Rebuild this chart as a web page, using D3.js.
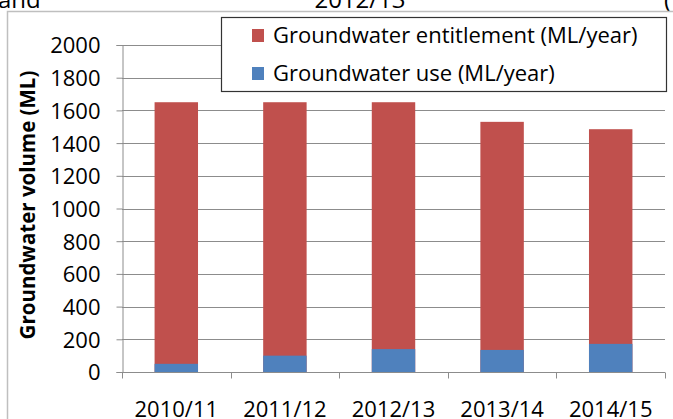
<!DOCTYPE html>
<html>
<head>
<meta charset="utf-8">
<script src="https://cdn.jsdelivr.net/npm/d3@7"></script>
<style>
  body { margin: 0; background: #fff; }
  svg text { font-family: "Open Sans", sans-serif; fill: #000; }
</style>
</head>
<body>
<svg id="chart" width="673" height="419"></svg>
<script>
// data
var years = ["2010/11", "2011/12", "2012/13", "2013/14", "2014/15"];
var entitlement = [1650, 1650, 1650, 1530, 1485];
var use = [50, 100, 140, 135, 172];
var yTicks = [0, 200, 400, 600, 800, 1000, 1200, 1400, 1600, 1800, 2000];
var legendLabels = ["Groundwater entitlement (ML/year)", "Groundwater use (ML/year)"];
var colors = ["#C0504D", "#4F81BD"];

function drawChart() {
  var svg = d3.select("#chart");
  var mLeft = 122, mRight = 665, mTop = 45, mBottom = 372;
  var axisColor = "#8c8c8c";

  // text of the page above, cut off by the crop
  svg.append("text").attr("x", -2).attr("y", 8).style("font-size", "24px").text("and");
  svg.append("text").attr("x", 360).attr("y", 8).attr("text-anchor", "middle").style("font-size", "24px").text("2012/13");
  svg.append("text").attr("x", 664).attr("y", 8).style("font-size", "24px").text("(");

  // chart frame
  svg.append("rect")
    .attr("x", 7.5).attr("y", 11.5).attr("width", 680).attr("height", 430)
    .attr("fill", "#fff").attr("stroke", "#bfbfbf").attr("stroke-width", 1.5);

  var x = d3.scaleBand().domain(years).range([mLeft, mRight]).paddingInner(0.6).paddingOuter(0.3);
  var y = d3.scaleLinear().domain([0, 2000]).range([mBottom, mTop]);

  // gridlines
  svg.append("g").selectAll("line")
    .data(yTicks.filter(function(d) { return d > 0; }))
    .enter().append("line")
    .attr("x1", mLeft).attr("x2", mRight)
    .attr("y1", function(d) { return Math.round(y(d)) + 0.5; })
    .attr("y2", function(d) { return Math.round(y(d)) + 0.5; })
    .attr("stroke", axisColor).attr("stroke-width", 1);

  // bars: entitlement behind, use in front
  svg.append("g").selectAll("rect")
    .data(years)
    .enter().append("rect")
    .attr("x", function(d) { return x(d); })
    .attr("width", x.bandwidth())
    .attr("y", function(d, i) { return y(entitlement[i]); })
    .attr("height", function(d, i) { return y(0) - y(entitlement[i]); })
    .attr("fill", colors[0]);

  svg.append("g").selectAll("rect")
    .data(years)
    .enter().append("rect")
    .attr("x", function(d) { return x(d); })
    .attr("width", x.bandwidth())
    .attr("y", function(d, i) { return y(use[i]); })
    .attr("height", function(d, i) { return y(0) - y(use[i]); })
    .attr("fill", colors[1]);

  // y axis
  var yAxis = svg.append("g")
    .attr("transform", "translate(" + (mLeft + 0.5) + ",0)")
    .call(d3.axisLeft(y).tickValues(yTicks).tickSize(6).tickPadding(16).tickFormat(d3.format("d")));
  yAxis.select(".domain").attr("stroke", axisColor);
  yAxis.selectAll(".tick line").attr("stroke", axisColor);
  yAxis.selectAll("text").style("font-size", "22px").attr("font-family", null).attr("dy", "0.36em");

  // x axis, ticks sit on band boundaries
  var xAxis = svg.append("g").attr("transform", "translate(0," + (mBottom + 0.5) + ")");
  xAxis.append("line").attr("x1", mLeft).attr("x2", mRight).attr("stroke", axisColor);
  xAxis.selectAll("line.tk")
    .data(d3.range(years.length + 1))
    .enter().append("line").attr("class", "tk")
    .attr("x1", function(i) { return Math.round(mLeft + i * x.step()) + 0.5; })
    .attr("x2", function(i) { return Math.round(mLeft + i * x.step()) + 0.5; })
    .attr("y1", 0).attr("y2", 6).attr("stroke", axisColor);
  xAxis.selectAll("text")
    .data(years)
    .enter().append("text")
    .attr("x", function(d) { return x(d) + x.bandwidth() / 2; })
    .attr("y", 44)
    .attr("text-anchor", "middle")
    .style("font-size", "22px")
    .text(function(d) { return d; });

  // y title
  svg.append("text")
    .attr("transform", "translate(35,205) rotate(-90)")
    .attr("text-anchor", "middle")
    .style("font-size", "20.5px").style("font-weight", "bold")
    .text("Groundwater volume (ML)");

  // legend
  var legend = svg.append("g");
  legend.append("rect")
    .attr("x", 221.5).attr("y", 17.5).attr("width", 445).attr("height", 74)
    .attr("fill", "#fff").attr("stroke", "#333").attr("stroke-width", 1.2);
  var item = legend.selectAll("g.item")
    .data(legendLabels)
    .enter().append("g").attr("class", "item")
    .attr("transform", function(d, i) { return "translate(252," + (29 + i * 38) + ")"; });
  item.append("rect").attr("width", 12).attr("height", 13)
    .attr("fill", function(d, i) { return colors[i]; });
  item.append("text").attr("x", 21).attr("y", 14)
    .style("font-size", "22px")
    .text(function(d) { return d; });
}

drawChart();
</script>
</body>
</html>
